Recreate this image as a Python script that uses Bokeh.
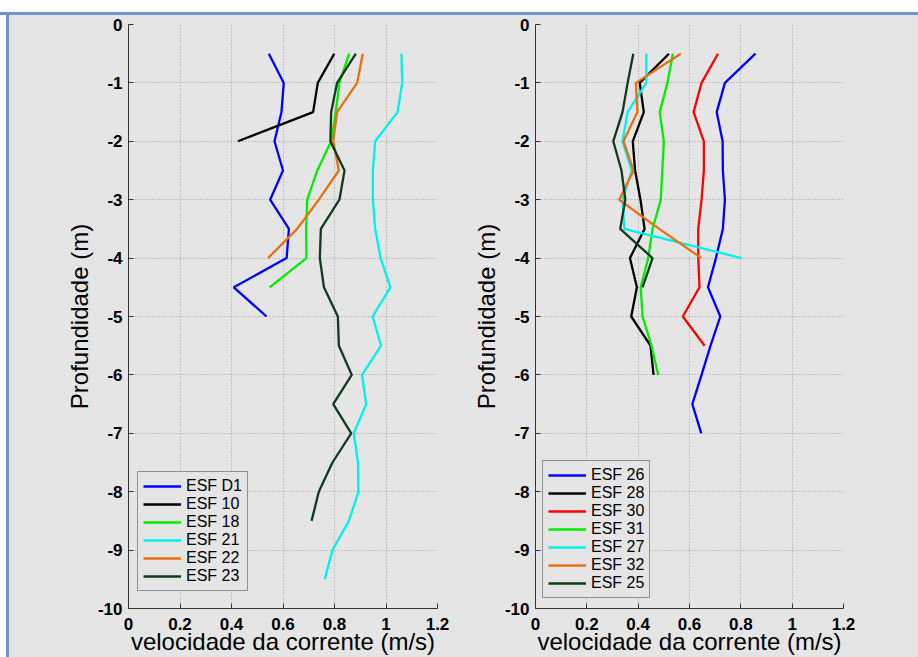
from bokeh.plotting import figure
from bokeh.layouts import row, column
from bokeh.models import Div, FixedTicker
from bokeh.embed import file_html
from bokeh.resources import INLINE

# ---- depths (m) ----
depth_d1 = [-0.5, -1, -1.5, -2, -2.5, -3, -3.5, -4, -4.5, -5]
depth_10 = [-0.5, -1, -1.5, -2]
depth_18 = [-0.5, -1, -1.5, -2, -2.5, -3, -3.5, -4, -4.5]
depth_21 = [-0.5, -1, -1.5, -2, -2.5, -3, -3.5, -4, -4.5, -5, -5.5, -6, -6.5, -7, -7.5, -8, -8.5, -9, -9.5]
depth_22 = [-0.5, -1, -1.5, -2, -2.5, -3, -3.5, -4]
depth_23 = [-0.5, -1, -1.5, -2, -2.5, -3, -3.5, -4, -4.5, -5, -5.5, -6, -6.5, -7, -7.5, -8, -8.5]

depth_26 = [-0.5, -1, -1.5, -2, -2.5, -3, -3.5, -4, -4.5, -5, -5.5, -6, -6.5, -7]
depth_28 = [-0.5, -1, -1.5, -2, -2.5, -3, -3.5, -4, -4.5, -5, -5.5, -6]
depth_30 = [-0.5, -1, -1.5, -2, -2.5, -3, -3.5, -4, -4.5, -5, -5.5]
depth_31 = [-0.5, -1, -1.5, -2, -2.5, -3, -3.5, -4, -4.5, -5, -5.5, -6]
depth_27 = [-0.5, -1, -1.5, -2, -2.5, -3, -3.5, -4]
depth_32 = [-0.5, -1, -1.5, -2, -2.5, -3, -3.5, -4]
depth_25 = [-0.5, -1, -1.5, -2, -2.5, -3, -3.5, -4, -4.5]

# ---- current speed (m/s) ----
vel_d1 = [0.545, 0.603, 0.594, 0.567, 0.600, 0.550, 0.623, 0.614, 0.409, 0.536]
vel_10 = [0.799, 0.735, 0.717, 0.425]
vel_18 = [0.857, 0.819, 0.805, 0.787, 0.733, 0.694, 0.690, 0.691, 0.548]
vel_21 = [1.060, 1.063, 1.045, 0.958, 0.949, 0.949, 0.958, 0.979, 1.017, 0.948,
          0.981, 0.907, 0.923, 0.875, 0.891, 0.893, 0.856, 0.792, 0.762]
vel_22 = [0.910, 0.888, 0.810, 0.795, 0.817, 0.739, 0.655, 0.542]
vel_23 = [0.883, 0.810, 0.787, 0.784, 0.839, 0.819, 0.747, 0.743, 0.759, 0.813,
          0.817, 0.867, 0.795, 0.865, 0.792, 0.739, 0.711]

vel_26 = [0.857, 0.738, 0.706, 0.729, 0.730, 0.738, 0.730, 0.703, 0.672, 0.720,
          0.682, 0.647, 0.611, 0.646]
vel_28 = [0.520, 0.406, 0.422, 0.379, 0.388, 0.409, 0.425, 0.368, 0.395, 0.373, 0.448, 0.460]
vel_30 = [0.711, 0.647, 0.616, 0.656, 0.656, 0.647, 0.634, 0.634, 0.639, 0.574, 0.659]
vel_31 = [0.535, 0.514, 0.484, 0.500, 0.494, 0.488, 0.456, 0.439, 0.410, 0.417, 0.452, 0.478]
vel_27 = [0.432, 0.432, 0.359, 0.339, 0.375, 0.339, 0.346, 0.803]
vel_32 = [0.566, 0.391, 0.397, 0.343, 0.382, 0.326, 0.482, 0.646]
vel_25 = [0.381, 0.359, 0.339, 0.303, 0.335, 0.350, 0.330, 0.456, 0.417]

labels_left = ["ESF D1", "ESF 10", "ESF 18", "ESF 21", "ESF 22", "ESF 23"]
labels_right = ["ESF 26", "ESF 28", "ESF 30", "ESF 31", "ESF 27", "ESF 32", "ESF 25"]

x_ticks = [0, 0.2, 0.4, 0.6, 0.8, 1, 1.2]
x_tick_labels = ["0", "0.2", "0.4", "0.6", "0.8", "1", "1.2"]
y_ticks = [-10, -9, -8, -7, -6, -5, -4, -3, -2, -1, 0]
y_tick_labels = ["-10", "-9", "-8", "-7", "-6", "-5", "-4", "-3", "-2", "-1", "0"]

BG = "#e5e5e5"
BLUE, BLACK, GREEN, CYAN = "#0000ff", "#000000", "#00ee00", "#00f0f0"
ORANGE, DKGREEN, RED = "#e8700f", "#0f3a1c", "#ff0000"
FONT = "Liberation Sans"


def make_panel(width, border_left, border_right):
    p = figure(width=width, height=642, x_range=(0, 1.2), y_range=(-10, 0),
               output_backend="svg", toolbar_location=None,
               min_border_left=border_left, min_border_right=border_right,
               min_border_top=9, min_border_bottom=49, margin=0)
    p.background_fill_color = BG
    p.border_fill_color = BG
    p.outline_line_color = None
    p.xaxis.ticker = FixedTicker(ticks=x_ticks)
    p.yaxis.ticker = FixedTicker(ticks=y_ticks)
    p.xaxis.major_label_overrides = dict(zip(x_ticks, x_tick_labels))
    p.yaxis.major_label_overrides = dict(zip(y_ticks, y_tick_labels))
    p.xaxis.axis_label = "velocidade da corrente (m/s)"
    p.yaxis.axis_label = "Profundidade (m)"
    for ax in (p.xaxis[0], p.yaxis[0]):
        ax.axis_line_color = "#333333"
        ax.major_tick_line_color = "#333333"
        ax.major_tick_in = 5
        ax.major_tick_out = 0
        ax.minor_tick_line_color = None
        ax.major_label_text_font = FONT
        ax.major_label_text_font_style = "bold"
        ax.major_label_text_font_size = "17px"
        ax.major_label_text_color = "#000000"
        ax.axis_label_text_font = FONT
        ax.axis_label_text_font_style = "normal"
        ax.axis_label_text_font_size = "24px"
        ax.axis_label_text_color = "#000000"
    p.xaxis.major_label_standoff = 9
    p.xaxis.axis_label_standoff = -5
    p.yaxis.major_label_standoff = 6
    p.yaxis.axis_label_standoff = 2
    p.grid.grid_line_color = "#9c9c9c"
    p.grid.grid_line_dash = "1 2"
    p.grid.grid_line_width = 1
    return p


p1 = make_panel(451, 119, 23)
p2 = make_panel(458, 75, 75)

left_series = [(vel_d1, depth_d1, BLUE), (vel_10, depth_10, BLACK),
               (vel_18, depth_18, GREEN), (vel_21, depth_21, CYAN),
               (vel_22, depth_22, ORANGE), (vel_23, depth_23, DKGREEN)]
right_series = [(vel_26, depth_26, BLUE), (vel_28, depth_28, BLACK),
                (vel_30, depth_30, RED), (vel_31, depth_31, GREEN),
                (vel_27, depth_27, CYAN), (vel_32, depth_32, ORANGE),
                (vel_25, depth_25, DKGREEN)]

for (xs, ys, c), lab in zip(left_series, labels_left):
    p1.line(xs, ys, line_color=c, line_width=2.3, legend_label=lab)
for (xs, ys, c), lab in zip(right_series, labels_right):
    p2.line(xs, ys, line_color=c, line_width=2.3, legend_label=lab)

for p, loc in ((p1, (9, 17)), (p2, (7, 10))):
    lg = p.legend[0]
    lg.location = loc
    lg.background_fill_color = BG
    lg.background_fill_alpha = 1.0
    lg.border_line_color = "#3a3a3a"
    lg.border_line_width = 1
    lg.label_text_font = FONT
    lg.label_text_font_size = "16px"
    lg.label_text_color = "#000000"
    lg.glyph_width = 38
    lg.glyph_height = 18
    lg.label_height = 18
    lg.label_standoff = 5
    lg.spacing = 0
    lg.padding = 5
    lg.margin = 0

# window frame: white strip with a blue rule on top and on the left
top_white = Div(width=918, height=12, margin=0, styles={"background-color": "#ffffff"})
top_blue = Div(width=918, height=3, margin=0, styles={"background-color": "#6f93cf"})
left_white = Div(width=6, height=642, margin=0, styles={"background-color": "#ffffff"})
left_blue = Div(width=3, height=642, margin=0, styles={"background-color": "#6f93cf"})

layout = column(top_white, top_blue,
                row(left_white, left_blue, p1, p2, spacing=0, margin=0,
                    styles={"background-color": BG}),
                spacing=0, margin=0)

open("out.html", "w").write(file_html(layout, INLINE))
